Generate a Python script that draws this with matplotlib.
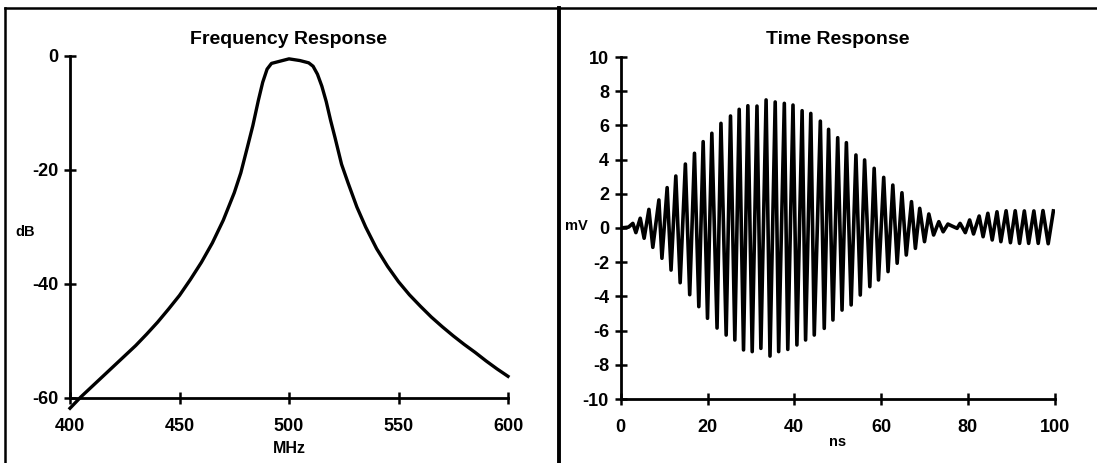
import numpy as np
import matplotlib.pyplot as plt
from matplotlib.lines import Line2D

plt.rcParams['font.family'] = ['Liberation Sans', 'DejaVu Sans']
plt.rcParams['font.weight'] = 'bold'
plt.rcParams['axes.unicode_minus'] = False

# Frequency response (MHz, dB)
freq_mhz = [400, 405, 410, 415, 420, 425, 430, 435, 440, 445, 450, 455,
            460, 465, 470, 475, 478, 481, 483.5, 486, 488, 490, 492, 495,
            500, 505, 509, 511, 513, 515, 517, 519, 521, 524, 527, 531, 535,
            540, 545, 550, 555, 560, 565, 570, 575, 580, 585, 590, 595, 600]
gain_db = [-61.8, -59.8, -58.0, -56.2, -54.4, -52.6, -50.8, -48.8, -46.7,
           -44.4, -42.0, -39.2, -36.2, -32.8, -28.8, -24.0, -20.5, -16.0,
           -12.2, -7.8, -4.6, -2.3, -1.3, -1.0, -0.5, -0.8, -1.2, -1.8, -3.2,
           -5.3, -8.0, -11.3, -14.3, -19.0, -22.3, -26.5, -30.0, -33.8,
           -36.9, -39.6, -41.9, -43.9, -45.8, -47.5, -49.1, -50.6, -52.0,
           -53.5, -54.9, -56.2]

# Time response: successive crests/troughs (ns, mV)
t_ns = [0.0, 1.8, 2.8, 3.5, 4.5, 5.4, 6.5, 7.4, 8.8, 9.5, 10.7, 11.6, 12.7,
        13.7, 14.9, 15.9, 17.0, 18.0, 19.0, 20.0, 21.0, 22.2, 23.1, 24.3,
        25.3, 26.3, 27.3, 28.3, 29.3, 30.3, 31.4, 32.3, 33.5, 34.4, 35.6,
        36.4, 37.7, 38.5, 39.7, 40.6, 41.8, 42.6, 43.8, 44.6, 46.0, 46.9,
        47.9, 48.9, 50.0, 51.0, 52.0, 53.1, 54.2, 55.2, 56.2, 57.4, 58.4,
        59.4, 60.6, 61.6, 62.7, 63.7, 64.8, 65.8, 67.0, 67.9, 68.9, 70.0,
        71.0, 72.1, 73.3, 74.3, 75.4, 76.3, 77.5, 78.2, 79.4, 80.4, 81.3,
        82.6, 83.5, 84.6, 85.6, 86.7, 87.6, 88.8, 89.8, 90.9, 91.9, 93.0,
        94.0, 95.2, 96.2, 97.3, 98.5, 99.7]
v_mv = [0.0, 0.05, 0.27, -0.27, 0.57, -0.60, 1.09, -1.13, 1.64, -1.77, 2.36,
        -2.46, 3.04, -3.20, 3.74, -3.90, 4.37, -4.60, 5.05, -5.28, 5.54,
        -5.85, 6.12, -6.26, 6.55, -6.55, 6.94, -7.13, 7.15, -7.23, 7.13,
        -7.04, 7.49, -7.49, 7.37, -7.23, 7.29, -7.10, 7.19, -6.84, 6.86,
        -6.55, 6.70, -6.26, 6.25, -5.87, 5.77, -5.38, 5.28, -4.80, 4.99,
        -4.50, 4.27, -3.92, 3.98, -3.43, 3.49, -3.04, 2.96, -2.55, 2.51,
        -2.06, 2.06, -1.58, 1.54, -1.19, 1.15, -0.80, 0.82, -0.41, 0.37,
        -0.22, 0.23, 0.12, -0.02, 0.27, -0.27, 0.47, -0.35, 0.70, -0.51,
        0.86, -0.70, 0.95, -0.80, 1.01, -0.86, 1.01, -0.90, 1.00, -0.90,
        1.00, -0.90, 1.02, -0.92, 1.00]

W, H = 1097, 463
fig = plt.figure(figsize=(W / 100, H / 100), dpi=100)
fig.patch.set_facecolor('white')


def style_axes(ax):
    for side in ('top', 'right'):
        ax.spines[side].set_visible(False)
    for side in ('left', 'bottom'):
        ax.spines[side].set_linewidth(2.0)
        ax.spines[side].set_color('black')
    ax.tick_params(direction='inout', length=9, width=1.8, colors='black',
                   labelsize=13, pad=4)
    ax.tick_params(axis='x', pad=10)


# Left panel ───────────────────────────────────────────────────────────────
ax1 = fig.add_axes([70 / W, 1 - 398 / H, 438 / W, 342 / H])
ax1.plot(freq_mhz, gain_db, color='black', lw=2.4, clip_on=False,
         solid_joinstyle='round')
ax1.set_xlim(400, 600)
ax1.set_ylim(-60, 0)
ax1.set_xticks([400, 450, 500, 550, 600])
ax1.set_yticks([0, -20, -40, -60])
style_axes(ax1)
ax1.set_title('Frequency Response', fontsize=14, fontweight='bold', pad=9)
ax1.set_xlabel('MHz', fontsize=11.5, fontweight='bold', labelpad=4)
fig.text(25 / W, 1 - 232 / H, 'dB', fontsize=10.5, fontweight='bold',
         ha='center', va='center')

# Right panel ──────────────────────────────────────────────────────────────
ax2 = fig.add_axes([620.7 / W, 1 - 399 / H, 434 / W, 342 / H])
ax2.plot(t_ns, v_mv, color='black', lw=2.6, solid_joinstyle='round')
ax2.set_xlim(0, 100)
ax2.set_ylim(-10, 10)
ax2.set_xticks(range(0, 101, 20))
ax2.set_yticks(range(-10, 11, 2))
style_axes(ax2)
ax2.set_title('Time Response', fontsize=14, fontweight='bold', pad=9)
ax2.set_xlabel('ns', fontsize=10.5, fontweight='bold', labelpad=-1)
fig.text(576 / W, 1 - 226 / H, 'mV', fontsize=10.5, fontweight='bold',
         ha='center', va='center')

# Panel frame (border + divider)
fig.add_artist(Line2D([5 / W, 1], [1 - 7.5 / H, 1 - 7.5 / H], color='black', lw=1.8))
fig.add_artist(Line2D([5 / W, 5 / W], [0, 1 - 7.5 / H], color='black', lw=1.8))
fig.add_artist(Line2D([559 / W, 559 / W], [0, 1 - 7.5 / H], color='black', lw=2.8))

fig.savefig('out.png', dpi=100, facecolor='white')
